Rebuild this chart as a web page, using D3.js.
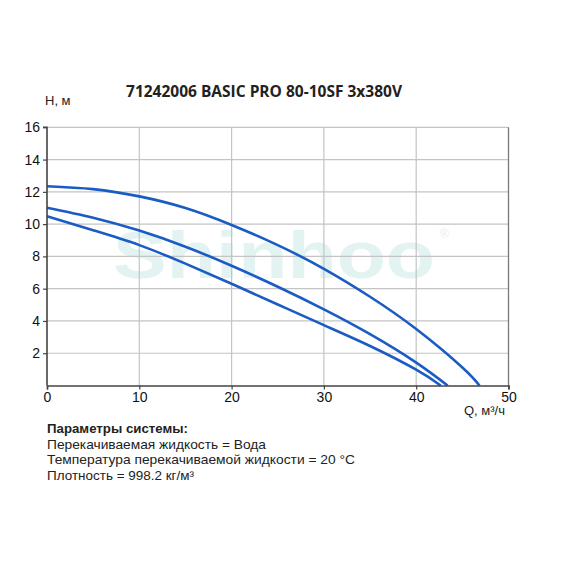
<!DOCTYPE html>
<html><head><meta charset="utf-8">
<script src="https://cdn.jsdelivr.net/npm/d3@7"></script>
<style>body{margin:0;background:#fff}svg{display:block}</style>
</head><body>
<svg id="c" width="570" height="570"></svg>
<script>
const title = "71242006 BASIC PRO 80-10SF 3x380V";
const xTicks = [0, 10, 20, 30, 40, 50];
const yTicks = [2, 4, 6, 8, 10, 12, 14, 16];
const curve1Q = [0, 5, 10, 15, 20, 25, 30, 35, 40, 45, 46.85];
const curve1H = [12.35, 12.17, 11.72, 11.0, 9.95, 8.7, 7.23, 5.5, 3.5, 1.12, 0];
const curve2Q = [0, 5, 10, 15, 20, 25, 30, 35, 40, 43.4];
const curve2H = [11.02, 10.4, 9.6, 8.6, 7.42, 6.12, 4.72, 3.18, 1.42, 0];
const curve3Q = [0, 5, 10, 15, 20, 25, 30, 35, 40, 42.65];
const curve3H = [10.49, 9.62, 8.7, 7.55, 6.3, 5.02, 3.74, 2.45, 0.98, 0];
const infoLines = ["Параметры системы:", "Перекачиваемая жидкость = Вода", "Температура перекачиваемой жидкости = 20 °C", "Плотность = 998.2 кг/м³"];
const infoWidths = [141, 219, 308, 147];

const svg = d3.select("#c");
const x = d3.scaleLinear().domain([0, 50]).range([47, 508.5]);
const y = d3.scaleLinear().domain([0, 16]).range([385.5, 127.3]);

// watermark
svg.append("text").attr("x", 113).attr("y", 278)
  .attr("font-family", "'Liberation Sans', Arial, sans-serif").attr("font-weight", "700").attr("font-size", 66)
  .attr("textLength", 322).attr("lengthAdjust", "spacingAndGlyphs")
  .attr("fill", "#e2f3f2").text("Shinhoo");
svg.append("text").attr("x", 440).attr("y", 238).attr("font-family", "Liberation Sans, sans-serif")
  .attr("font-size", 12).attr("fill", "#e6efef").text("®");

// grid
const g = svg.append("g");
g.selectAll(".vg").data(xTicks.slice(1)).join("line")
  .attr("x1", d => x(d)).attr("x2", d => x(d)).attr("y1", y(16)).attr("y2", y(0))
  .attr("stroke", "#c4c4c4").attr("stroke-width", 1.2);
g.selectAll(".hg").data(yTicks).join("line")
  .attr("x1", x(0)).attr("x2", x(50)).attr("y1", d => y(d)).attr("y2", d => y(d))
  .attr("stroke", "#c4c4c4").attr("stroke-width", 1.2);
g.append("line").attr("x1", x(50)).attr("x2", x(50)).attr("y1", y(16)).attr("y2", y(0))
  .attr("stroke", "#777").attr("stroke-width", 1.2);

// curves
const line = d3.line().x(d => x(d[0])).y(d => y(d[1])).curve(d3.curveNatural);
[[curve1Q, curve1H], [curve2Q, curve2H], [curve3Q, curve3H]].forEach(([q, h]) => {
  svg.append("path").datum(q.map((v, i) => [v, h[i]])).attr("d", line)
    .attr("fill", "none").attr("stroke", "#1a5cc4").attr("stroke-width", 2.6);
});

// axes
const fontAx = "Liberation Sans, Arial, sans-serif";
const xa = svg.append("g").attr("transform", `translate(0,${y(0)})`)
  .call(d3.axisBottom(x).tickValues(xTicks).tickSize(4).tickPadding(3));
const ya = svg.append("g").attr("transform", `translate(${x(0)},0)`)
  .call(d3.axisLeft(y).tickValues(yTicks).tickSize(4).tickPadding(3));
[xa, ya].forEach(a => {
  a.select(".domain").attr("stroke", "#444").attr("stroke-width", 1.6);
  a.selectAll(".tick line").attr("stroke", "#444").attr("stroke-width", 1.2);
  a.selectAll(".tick text").attr("font-family", fontAx).attr("font-size", 14).attr("fill", "#111");
});
ya.select(".domain").attr("d", `M-4,${y(16)}H0V${y(0)}`);

// titles
svg.append("text").attr("x", 264).attr("y", 97).attr("text-anchor", "middle")
  .attr("font-family", "'Open Sans', sans-serif").attr("font-weight", "700").attr("font-size", 15.5)
  .attr("fill", "#222").text(title);
svg.append("text").attr("x", 45).attr("y", 105).attr("font-family", fontAx).attr("font-size", 13)
  .attr("fill", "#222").text("H, м");
svg.append("text").attr("x", 505).attr("y", 415).attr("text-anchor", "end").attr("font-family", fontAx)
  .attr("font-size", 13).attr("fill", "#222").text("Q, м³/ч");

// info
svg.selectAll(".info").data(infoLines).join("text")
  .attr("x", 47).attr("y", (d, i) => 433 + i * 15.6)
  .attr("font-family", fontAx).attr("font-size", 13)
  .attr("textLength", (d, i) => infoWidths[i]).attr("lengthAdjust", "spacingAndGlyphs")
  .attr("font-weight", (d, i) => i === 0 ? 700 : 400).attr("fill", "#222").text(d => d);
</script>
</body></html>
